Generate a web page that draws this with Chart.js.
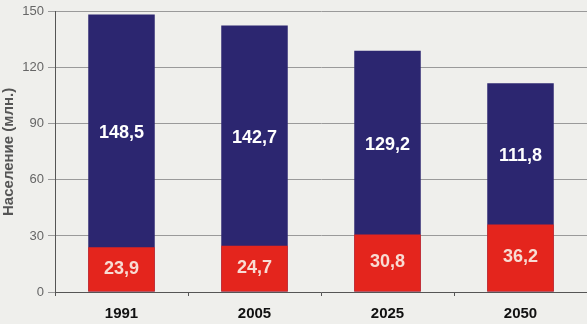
<!DOCTYPE html>
<html><head><meta charset="utf-8">
<script src="https://cdn.jsdelivr.net/npm/chart.js@4/dist/chart.umd.min.js"></script>
<style>html,body{margin:0;padding:0;background:#efefec;}#c{display:block;}</style>
</head><body>
<canvas id="c" width="587" height="324"></canvas>
<script>
const years = ["1991", "2005", "2025", "2050"];
const totalPop = [148.5, 142.7, 129.2, 111.8];
const elderPop = [23.9, 24.7, 30.8, 36.2];
const yTicks = [0, 30, 60, 90, 120, 150];
const yTitle = "Население (млн.)";

const fmt = v => v.toFixed(1).replace('.', ',');

const bgPlugin = {
  id: 'bg',
  beforeDraw(chart) {
    const ctx = chart.ctx;
    ctx.save();
    ctx.fillStyle = '#efefec';
    ctx.fillRect(0, 0, chart.width, chart.height);
    ctx.restore();
  }
};

const labelPlugin = {
  id: 'lbls',
  afterDatasetsDraw(chart) {
    const ctx = chart.ctx;
    const y = chart.scales.y;
    ctx.save();
    ctx.font = 'bold 18px "Liberation Sans", Arial, sans-serif';
    ctx.textAlign = 'center';
    ctx.textBaseline = 'middle';
    const metaBlue = chart.getDatasetMeta(1);
    const metaRed = chart.getDatasetMeta(0);
    years.forEach((_, i) => {
      const xb = metaBlue.data[i].x;
      ctx.fillStyle = '#ffffff';
      ctx.fillText(fmt(totalPop[i]), xb, y.getPixelForValue((totalPop[i] + elderPop[i]) / 2) + 2);
      ctx.fillStyle = '#f8dcd4';
      ctx.fillText(fmt(elderPop[i]), metaRed.data[i].x, y.getPixelForValue(elderPop[i] / 2) - 1);
    });
    ctx.restore();
  }
};

new Chart(document.getElementById('c'), {
  type: 'bar',
  data: {
    labels: years,
    datasets: [
      { label: 'elder', data: elderPop, backgroundColor: '#e4251d', grouped: false, order: 0,
        barPercentage: 0.5, categoryPercentage: 1.0 },
      { label: 'total', data: totalPop, backgroundColor: '#2c2670', grouped: false, order: 1,
        barPercentage: 0.5, categoryPercentage: 1.0 }
    ]
  },
  options: {
    responsive: false,
    animation: false,
    layout: { padding: { top: 7, right: 0, left: 0, bottom: 0 } },
    plugins: { legend: { display: false }, tooltip: { enabled: false } },
    scales: {
      x: {
        offset: true,
        grid: { offset: true, drawOnChartArea: false, tickLength: 4, color: '#555' },
        border: { color: '#555', width: 1 },
        ticks: { color: '#111', font: { family: '"Liberation Sans", Arial, sans-serif', size: 15, weight: 'bold' }, padding: 9 },
        afterFit(s) { s.height = 32; }
      },
      y: {
        min: 0, max: 150,
        afterBuildTicks(s) { s.ticks = yTicks.map(v => ({ value: v })); },
        grid: { color: '#9a9a9a', tickLength: 7, lineWidth: 1 },
        border: { color: '#555', width: 1 },
        ticks: { color: '#666', font: { family: '"Liberation Sans", Arial, sans-serif', size: 13 }, padding: 4 },
        title: { display: true, text: yTitle, color: '#555', font: { family: '"Liberation Sans", Arial, sans-serif', size: 15, weight: 'bold' }, padding: { top: 0, bottom: 0 } },
        afterFit(s) { s.width = 55; }
      }
    }
  },
  plugins: [bgPlugin, labelPlugin]
});
</script>
</body></html>
